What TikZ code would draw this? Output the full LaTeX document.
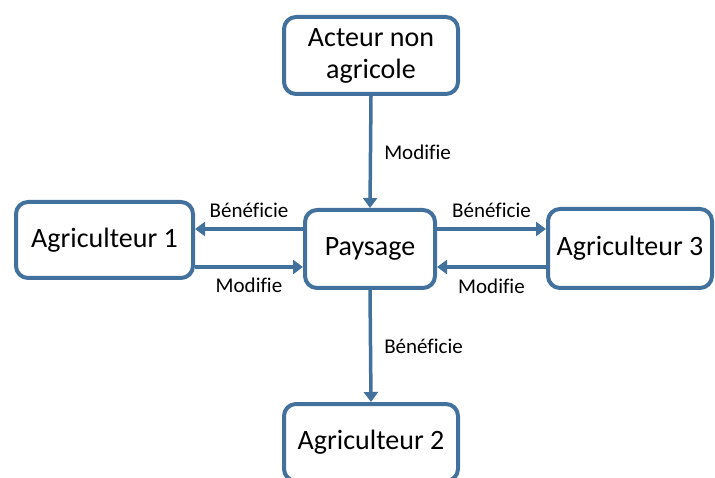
\documentclass[tikz,border=0pt]{standalone}
\usepackage{fontspec}
\setmainfont{Carlito}[Ligatures=CommonOff]
\usepackage{tikz}
\usetikzlibrary{arrows.meta}

\definecolor{steel}{RGB}{65,113,156}

\begin{document}
\begin{tikzpicture}
  [x=1pt,y=1pt,
   box/.style={rectangle,draw=steel,fill=white,line width=4pt,rounded corners=12pt,
               align=center,font=\fontsize{28}{32}\selectfont},
   flow/.style={draw=steel,line width=3.5pt,-{Triangle[length=10pt,width=14pt]}},
   lbl/.style={font=\fontsize{21}{25}\selectfont,inner sep=1pt}]
  \clip (0,0) rectangle (715,477);
  \node (acteur) [box,minimum width=174pt,minimum height=77pt] at (371,421.5) {Acteur non\\agricole};
  \node (paysage) [box,minimum width=130pt,minimum height=78pt] at (370,228) {Paysage};
  \node (agri1) [box,minimum width=177pt,minimum height=76pt] at (104.5,237) {Agriculteur 1};
  \node (agri3) [box,minimum width=164pt,minimum height=79pt] at (630,228.5) {Agriculteur 3};
  \node (agri2) [box,minimum width=174pt,minimum height=77pt] at (371,34.5) {Agriculteur 2};
  % vertical flows
  \draw [flow] (acteur.south) -- (paysage.north)
    node [lbl,midway,anchor=west,xshift=11pt] {Modifie};
  \draw [flow] (paysage.south) -- (agri2.north)
    node [lbl,midway,anchor=west,xshift=11pt] {Bénéficie};
  % left side
  \draw [flow] ([yshift=20pt]paysage.west) -- ([yshift=20pt]paysage.west -| agri1.east)
    node [lbl,midway,yshift=19pt] {Bénéficie};
  \draw [flow] ([yshift=-18pt]paysage.west -| agri1.east) -- ([yshift=-18pt]paysage.west)
    node [lbl,midway,yshift=-18pt] {Modifie};
  % right side
  \draw [flow] ([yshift=20pt]paysage.east) -- ([yshift=20pt]paysage.east -| agri3.west)
    node [lbl,midway,yshift=19pt] {Bénéficie};
  \draw [flow] ([yshift=-18pt]paysage.east -| agri3.west) -- ([yshift=-18pt]paysage.east)
    node [lbl,midway,yshift=-19pt] {Modifie};
\end{tikzpicture}
\end{document}
